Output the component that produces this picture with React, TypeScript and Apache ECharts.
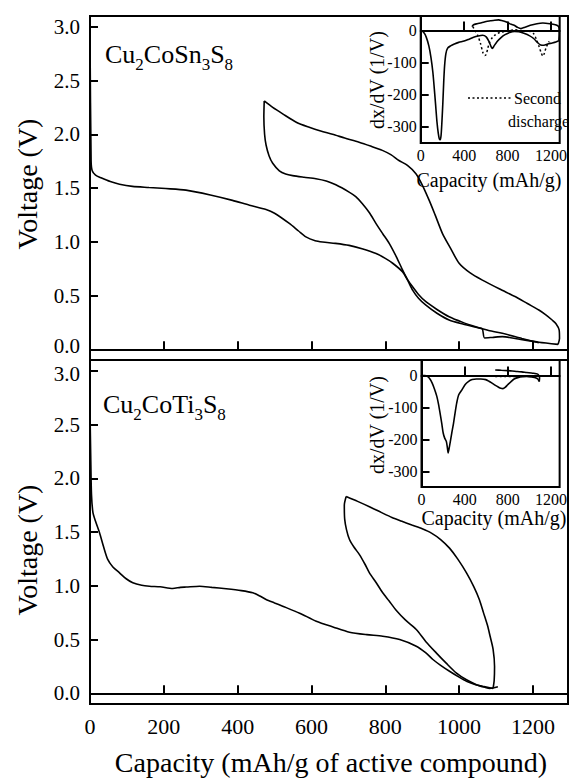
import React, { useEffect, useRef } from 'react';
import * as echarts from 'echarts';

const FONT = "'Liberation Serif', 'Times New Roman', Times, 'DejaVu Serif', serif";

// ---------- Top panel: Cu2CoSn3S8, [capacity (mAh/g), voltage (V)] ----------
const snDischarge1: [number, number][] = [
  [0, 2.93], [3, 1.75], [6, 1.66], [15, 1.62], [30, 1.595], [55, 1.56], [80, 1.535], [115, 1.515],
  [160, 1.505], [205, 1.495], [260, 1.48], [326, 1.435], [386, 1.385], [432, 1.34], [477, 1.3],
  [500, 1.265], [540, 1.17], [565, 1.1], [585, 1.045], [610, 1.01], [630, 0.998], [665, 0.985],
  [702, 0.966], [737, 0.935], [775, 0.89], [800, 0.845], [820, 0.8], [847, 0.72], [860, 0.645],
  [874, 0.55], [890, 0.475], [910, 0.41], [940, 0.335], [973, 0.272], [1010, 0.235], [1054, 0.198],
  [1063, 0.19], [1069, 0.105], [1090, 0.11], [1117, 0.117], [1160, 0.095], [1216, 0.065], [1268, 0.045],
];
const snCharge: [number, number][] = [
  [1268, 0.045], [1272, 0.1], [1271, 0.18], [1262, 0.24], [1252, 0.272], [1235, 0.32], [1216, 0.365],
  [1185, 0.425], [1153, 0.488], [1110, 0.56], [1063, 0.643], [1030, 0.71], [1000, 0.8], [975, 0.95],
  [955, 1.076], [935, 1.25], [919, 1.385], [900, 1.53], [883, 1.633], [860, 1.71], [837, 1.756],
  [815, 1.81], [792, 1.85], [760, 1.89], [729, 1.926], [690, 1.965], [657, 2.0], [625, 2.03],
  [594, 2.065], [560, 2.11], [522, 2.19], [495, 2.25], [472, 2.31],
];
const snDischarge2: [number, number][] = [
  [472, 2.31], [471, 2.16], [473, 2.0], [477, 1.9], [485, 1.8], [495, 1.73], [513, 1.66], [530, 1.63],
  [549, 1.615], [580, 1.6], [612, 1.586], [640, 1.565], [666, 1.53], [702, 1.462], [720, 1.42],
  [738, 1.354], [757, 1.27], [775, 1.169], [793, 1.075], [811, 0.983], [830, 0.86], [847, 0.736],
  [860, 0.65], [874, 0.581], [890, 0.51], [910, 0.442], [940, 0.37], [973, 0.302], [1010, 0.25],
  [1045, 0.21], [1080, 0.175], [1117, 0.148], [1170, 0.1], [1216, 0.06],
];

// ---------- Bottom panel: Cu2CoTi3S8 ----------
const tiDischarge1: [number, number][] = [
  [0, 2.62], [2, 2.2], [4, 1.85], [8, 1.68], [15, 1.6], [26, 1.49], [37, 1.36], [48, 1.245],
  [62, 1.175], [80, 1.12], [98, 1.065], [116, 1.028], [140, 1.005], [161, 0.996], [190, 0.99],
  [224, 0.975], [245, 0.985], [261, 0.988], [297, 0.996], [330, 0.985], [369, 0.972], [410, 0.955],
  [441, 0.935], [460, 0.905], [477, 0.872], [500, 0.84], [522, 0.81], [568, 0.745], [613, 0.67],
  [660, 0.615], [703, 0.568], [750, 0.545], [793, 0.531], [839, 0.5], [884, 0.438], [910, 0.375],
  [929, 0.314], [950, 0.26], [974, 0.205], [1000, 0.15], [1020, 0.112], [1045, 0.08], [1064, 0.065],
  [1092, 0.045],
];
const tiCharge: [number, number][] = [
  [1092, 0.045], [1095, 0.12], [1096, 0.25], [1092, 0.41], [1084, 0.53], [1077, 0.63], [1066, 0.75],
  [1055, 0.87], [1040, 0.99], [1020, 1.12], [996, 1.25], [974, 1.35], [950, 1.43], [925, 1.49],
  [900, 1.53], [872, 1.565], [845, 1.6], [818, 1.635], [790, 1.68], [757, 1.735], [725, 1.785],
  [694, 1.83],
];
const tiDischarge2: [number, number][] = [
  [694, 1.83], [689, 1.75], [690, 1.62], [695, 1.52], [703, 1.43], [715, 1.36], [730, 1.29],
  [745, 1.2], [757, 1.12], [775, 1.03], [793, 0.935], [810, 0.86], [830, 0.77], [855, 0.68],
  [884, 0.593], [910, 0.48], [938, 0.376], [965, 0.28], [992, 0.19], [1020, 0.125], [1047, 0.08],
  [1070, 0.055], [1083, 0.045], [1105, 0.06],
];

// ---------- Top inset: dx/dV for Cu2CoSn3S8, [capacity, dx/dV (1/V)] ----------
const snDxDischarge1: [number, number][] = [
  [0, 0], [25, -5], [50, -20], [75, -48], [95, -85], [112, -130], [125, -180], [137, -230],
  [150, -285], [162, -320], [172, -338], [180, -340], [188, -325], [196, -280], [204, -225],
  [212, -160], [220, -110], [232, -72], [248, -55], [275, -48], [310, -42], [350, -37], [400, -33],
  [445, -27], [487, -21], [530, -17], [570, -15], [603, -20], [628, -34], [648, -50], [660, -56],
  [676, -48], [704, -34], [740, -22], [777, -13], [820, -6], [863, -3], [905, -4], [950, -9],
  [1000, -16], [1040, -25], [1080, -39], [1105, -45], [1135, -46], [1170, -42], [1211, -39],
  [1245, -36], [1272, -32],
];
const snDxCharge: [number, number][] = [
  [1272, -32], [1276, -10], [1274, 8], [1264, 14], [1240, 18], [1190, 21], [1125, 23], [1070, 21],
  [1009, 16], [960, 10], [922, 6], [890, 10], [860, 16], [835, 19], [790, 26], [745, 31], [718, 33],
  [680, 32], [640, 30], [603, 28], [560, 24], [520, 21], [487, 18], [472, 12],
];
const snDxDischarge2: [number, number][] = [
  [480, 12], [500, 0], [525, -15], [550, -40], [574, -70], [590, -78], [603, -75], [618, -55],
  [632, -39], [660, -22], [690, -13], [730, -6], [777, -3], [820, 0], [863, 2], [920, 0], [970, -2],
  [1009, -3], [1040, -10], [1067, -29], [1090, -50], [1110, -70], [1125, -80], [1140, -70],
  [1154, -54], [1170, -42], [1183, -34],
];

// ---------- Bottom inset: dx/dV for Cu2CoTi3S8 ----------
const tiDxDischarge1: [number, number][] = [
  [0, 0], [30, 0], [55, -3], [80, -12], [99, -24], [120, -42], [142, -65], [158, -90], [172, -117],
  [188, -150], [201, -179], [215, -195], [230, -205], [240, -225], [247, -241], [255, -228],
  [265, -210], [280, -180], [297, -148], [312, -115], [326, -86], [345, -60], [376, -44], [405, -28],
  [434, -19], [470, -13], [508, -11], [550, -11], [595, -13], [625, -18], [653, -24], [685, -31],
  [711, -36], [735, -40], [755, -41], [775, -37], [799, -29], [830, -19], [858, -11], [900, -6],
  [940, -4], [975, -3], [1020, -5], [1062, -8], [1080, -12], [1091, -19],
];
const tiDxCharge: [number, number][] = [
  [1091, -19], [1094, -8], [1091, -3], [1077, 4], [1030, 7], [975, 9], [930, 11], [887, 12],
  [840, 14], [799, 15], [740, 16], [683, 17],
];
const tiDxDischarge2: [number, number][] = [
  [683, -3], [730, -3], [780, -3], [830, -3], [872, -3], [885, -5],
];

// ---------- Ticks ----------
const capacityTicks = [0, 200, 400, 600, 800, 1000, 1200];
const voltageTicks = [0, 0.5, 1, 1.5, 2, 2.5, 3];
const insetCapacityTicks = [0, 400, 800, 1200];
const insetDxTicks = [0, -100, -200, -300];

function measure(text: string, size: number): number {
  const ctx = document.createElement('canvas').getContext('2d');
  if (!ctx) return text.length * size * 0.5;
  ctx.font = `${size}px ${FONT}`;
  return ctx.measureText(text).width;
}

function formula(parts: [string, boolean][], x0: number, baseline: number) {
  const els: any[] = [];
  let x = x0;
  for (const [t, sub] of parts) {
    const size = sub ? 17 : 26;
    const b = sub ? baseline + 7 : baseline;
    els.push({
      type: 'text',
      x,
      y: b - 0.3375 * size,
      style: {
        text: t, fill: '#000', fontSize: size, fontFamily: FONT,
        align: 'left', verticalAlign: 'middle', textAlign: 'left', textVerticalAlign: 'middle',
      },
    });
    x += measure(t, size);
  }
  return els;
}

function label(text: string, x: number, y: number, size: number, rotate = false, align = 'center') {
  return {
    type: 'text',
    x, y,
    rotation: rotate ? Math.PI / 2 : 0,
    style: {
      text, fill: '#000', fontSize: size, fontFamily: FONT,
      align, verticalAlign: 'middle', textAlign: align, textVerticalAlign: 'middle',
    },
  };
}

const AX = { color: '#000', width: 2 };
const plain = (v: number) => String(v);

function mainX(grid: number, labels: boolean) {
  return {
    type: 'value', gridIndex: grid, min: 0, max: 1295,
    axisLine: { show: true, lineStyle: AX },
    axisTick: { show: true, inside: true, length: 8, customValues: capacityTicks.slice(1), lineStyle: AX },
    axisLabel: {
      show: labels, customValues: capacityTicks, fontSize: 22, fontFamily: FONT, color: '#000', margin: 11,
      formatter: plain,
    },
    splitLine: { show: false },
  };
}
function mainY(grid: number) {
  // Labels at the shared border between the two panels are nudged apart slightly.
  const edgeValue = grid === 0 ? 0 : 3;
  const edgeStyle = grid === 0 ? 'lo' : 'hi';
  return {
    type: 'value', gridIndex: grid, min: -0.1, max: 3.1,
    axisLine: { show: true, lineStyle: AX },
    axisTick: { show: true, inside: true, length: 8, customValues: voltageTicks, lineStyle: AX },
    axisLabel: {
      customValues: voltageTicks, fontSize: 21, fontFamily: FONT, color: '#000', margin: 10,
      formatter: (v: number) => (v === edgeValue ? `{${edgeStyle}|${v.toFixed(1)}}` : v.toFixed(1)),
      rich: {
        lo: { fontSize: 21, fontFamily: FONT, color: '#000', padding: [0, 0, 7, 0] },
        hi: { fontSize: 21, fontFamily: FONT, color: '#000', padding: [7, 0, 0, 0] },
      },
    },
    splitLine: { show: false },
  };
}
function insetX(grid: number) {
  return {
    type: 'value', gridIndex: grid, min: 0, max: 1280,
    axisLine: { show: true, lineStyle: AX },
    axisTick: { show: true, inside: true, length: 9, customValues: insetCapacityTicks.slice(1), lineStyle: AX },
    axisLabel: {
      customValues: insetCapacityTicks, fontSize: 16, fontFamily: FONT, color: '#000', margin: 4,
      formatter: plain,
    },
    splitLine: { show: false },
  };
}
function insetY(grid: number, min: number, max: number) {
  return {
    type: 'value', gridIndex: grid, min, max,
    axisLine: { show: true, lineStyle: AX },
    axisTick: { show: true, inside: true, length: 8, customValues: insetDxTicks, lineStyle: AX },
    axisLabel: {
      customValues: insetDxTicks, fontSize: 16, fontFamily: FONT, color: '#000', margin: 4,
      formatter: plain,
    },
    splitLine: { show: false },
  };
}

function line(data: [number, number][], idx: number, dotted = false, width = 1.6) {
  return {
    type: 'line', xAxisIndex: idx, yAxisIndex: idx, data,
    symbol: 'none', showSymbol: false, smooth: 0.25,
    lineStyle: { color: '#000', width, type: dotted ? [2, 2.5] : 'solid' },
    silent: true,
  };
}

export default function App() {
  const ref = useRef<HTMLDivElement>(null);
  useEffect(() => {
    if (!ref.current) return;
    const chart = echarts.init(ref.current, undefined, { renderer: 'svg' });
    const border = { show: true, borderColor: '#000', borderWidth: 2, backgroundColor: 'transparent' };
    chart.setOption({
      animation: false,
      backgroundColor: '#fff',
      textStyle: { fontFamily: FONT, color: '#000' },
      grid: [
        { left: 90, top: 16, width: 478, height: 344, ...border },
        { left: 90, top: 360, width: 478, height: 344, ...border },
        { left: 420.7, top: 16, width: 147.3, height: 127, ...border },
        { left: 421.5, top: 360, width: 146.5, height: 127, ...border },
      ],
      xAxis: [mainX(0, false), mainX(1, true), insetX(2), insetX(3)],
      yAxis: [mainY(0), mainY(1), insetY(2, -350, 45), insetY(3, -347, 48)],
      series: [
        line(snDischarge1, 0), line(snCharge, 0), line(snDischarge2, 0),
        line(tiDischarge1, 1), line(tiCharge, 1), line(tiDischarge2, 1),
        line(snDxDischarge1, 2), line(snDxCharge, 2), line(snDxDischarge2, 2, true, 1.5),
        line(tiDxDischarge1, 3), line(tiDxCharge, 3), line(tiDxDischarge2, 3, true, 1.5),
      ],
      graphic: [
        ...formula([['Cu', false], ['2', true], ['CoSn', false], ['3', true], ['S', false], ['8', true]], 105, 63),
        ...formula([['Cu', false], ['2', true], ['CoTi', false], ['3', true], ['S', false], ['8', true]], 103, 413),
        label('Voltage (V)', 27, 184, 28, true),
        label('Voltage (V)', 27, 550, 28, true),
        label('Capacity (mAh/g of active compound)', 331, 762, 28),
        label('Capacity (mAh/g)', 489, 180, 20),
        label('Capacity (mAh/g)', 494, 518, 20),
        label('dx/dV (1/V)', 377, 80, 20, true),
        label('dx/dV (1/V)', 377, 425, 20, true),
        {
          type: 'line',
          shape: { x1: 468, y1: 98, x2: 512, y2: 98 },
          style: { stroke: '#000', lineWidth: 1.5, lineDash: [2, 2.5] },
        },
        label('Second', 514, 98, 16, false, 'left'),
        label('discharge', 508, 121, 16, false, 'left'),
      ],
    });
    return () => chart.dispose();
  }, []);
  return (
    <div
      ref={ref}
      style={{ position: 'fixed', left: 0, top: 0, width: 570, height: 779, background: '#fff' }}
    />
  );
}
